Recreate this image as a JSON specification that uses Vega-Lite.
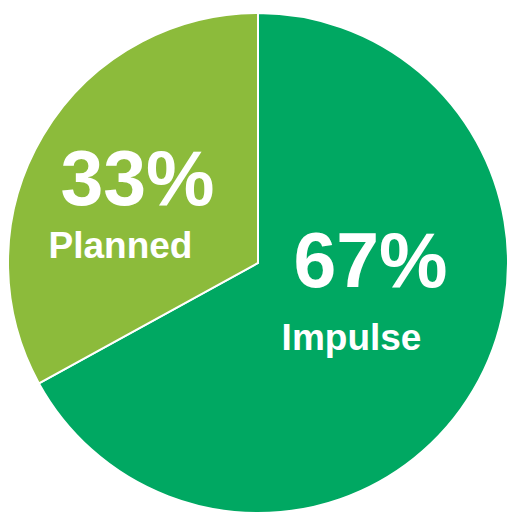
{
  "$schema": "https://vega.github.io/schema/vega-lite/v6.json",
  "width": 500,
  "height": 502,
  "padding": {"left": 8, "top": 12, "right": 0, "bottom": 0},
  "autosize": {"type": "none"},
  "background": "white",
  "config": {"view": {"stroke": null}},
  "data": {"values": [
    {"category": "Impulse", "value": 67, "pct": "67%", "order": 1},
    {"category": "Planned", "value": 33, "pct": "33%", "order": 2}
  ]},
  "encoding": {
    "theta": {"field": "value", "type": "quantitative", "stack": true},
    "order": {"field": "order", "type": "quantitative"}
  },
  "layer": [
    {
      "mark": {"type": "arc", "outerRadius": 250, "stroke": "white", "strokeWidth": 2},
      "encoding": {
        "color": {
          "field": "category", "type": "nominal", "legend": null,
          "scale": {"domain": ["Impulse", "Planned"], "range": ["#00a862", "#8cbb3b"]}
        }
      }
    },
    {
      "mark": {
        "type": "text", "radius": 140, "align": "center", "baseline": "alphabetic",
        "font": "Liberation Sans", "fontWeight": "bold", "fontSize": 77, "color": "white",
        "dx": {"expr": "datum.category === 'Impulse' ? -8 : 0"},
        "dy": {"expr": "datum.category === 'Impulse' ? -47 : 13"}
      },
      "encoding": {"text": {"field": "pct", "type": "nominal"}}
    },
    {
      "mark": {
        "type": "text", "radius": 140, "align": "center", "baseline": "alphabetic",
        "font": "Liberation Sans", "fontWeight": "bold", "fontSize": 37, "color": "white",
        "dx": {"expr": "datum.category === 'Impulse' ? -27 : -17"},
        "dy": {"expr": "datum.category === 'Impulse' ? 16 : 66"}
      },
      "encoding": {"text": {"field": "category", "type": "nominal"}}
    }
  ]
}
